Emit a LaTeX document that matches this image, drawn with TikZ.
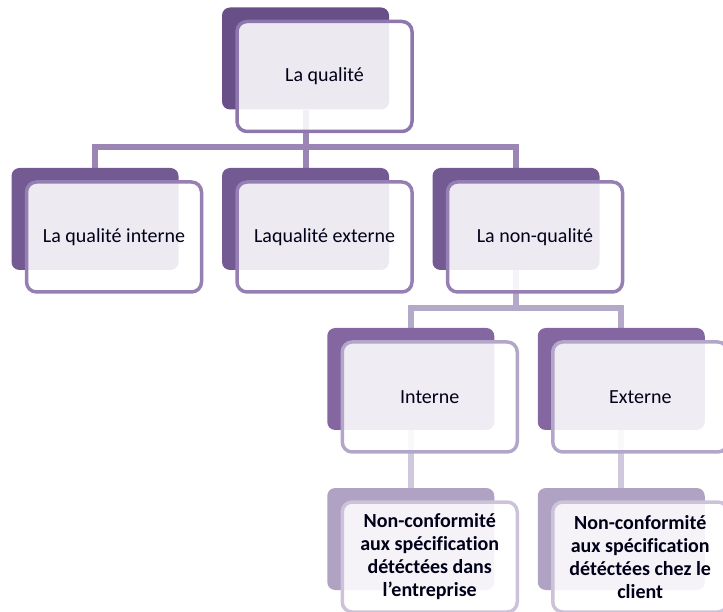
\documentclass[tikz,border=0pt]{standalone}
\usepackage{fontspec}
\setmainfont{Carlito}[Ligatures=CommonOff]
\usepackage{tikz}
\usetikzlibrary{backgrounds}
\definecolor{violetA}{HTML}{684F87}
\definecolor{violetB}{HTML}{735A93}
\definecolor{violetC}{HTML}{8466A0}
\definecolor{violetD}{HTML}{AFA2C3}
\definecolor{bordA}{HTML}{8D77AC}
\definecolor{bordB}{HTML}{957FB3}
\definecolor{bordC}{HTML}{B3A7C9}
\definecolor{bordD}{HTML}{CCC3DA}
\definecolor{lienA}{HTML}{9A85B4}
\definecolor{lienB}{HTML}{B5A9C9}
\definecolor{lienC}{HTML}{D0C8DC}

\begin{document}
\begin{tikzpicture}[x=1pt,y=1pt,
  fond/.style={rounded corners=8pt, minimum width=167pt, minimum height=102pt, inner sep=0pt},
  carte/.style={rounded corners=10pt, minimum width=175pt, minimum height=110pt,
                fill=white, fill opacity=0.88, text opacity=1, line width=3.5pt,
                align=center, text=black!90!blue, font=\fontsize{20}{23}\selectfont},
  lien/.style={line width=6pt}]

  \useasboundingbox (0,0) rectangle (723,611);

  % niveau 1
  \node[fond, fill=violetA] (q0) at (305.5,552.5) {};
  \node[carte, draw=bordA] (q0t) at ([shift={(19,-18)}]q0.center) {La qualité};

  % niveau 2
  \node[fond, fill=violetB] (q1) at (95,392) {};
  \node[carte, draw=bordB] (q1t) at ([shift={(19,-18)}]q1.center) {La qualité interne};
  \node[fond, fill=violetB] (q2) at (305.5,392) {};
  \node[carte, draw=bordB] (q2t) at ([shift={(19,-18)}]q2.center) {Laqualité externe};
  \node[fond, fill=violetB] (q3) at (516,392) {};
  \node[carte, draw=bordB] (q3t) at ([shift={(19,-18)}]q3.center) {La non-qualité};

  % niveau 3
  \node[fond, fill=violetC] (int) at (410.75,232) {};
  \node[carte, draw=bordC] (intt) at ([shift={(19,-18)}]int.center) {Interne};
  \node[fond, fill=violetC] (ext) at (621.25,232) {};
  \node[carte, draw=bordC] (extt) at ([shift={(19,-18)}]ext.center) {Externe};

  % niveau 4
  \node[fond, fill=violetD] (nc1) at (410.75,72) {};
  \node[carte, draw=bordD, font=\fontsize{20}{23}\selectfont\bfseries] (nc1t) at ([shift={(19,-18)}]nc1.center)
    {Non-conformité\\aux spécification\\détéctées dans\\l\symbol{39}entreprise};
  \node[fond, fill=violetD] (nc2) at (621.25,72) {};
  \node[carte, draw=bordD, font=\fontsize{20}{23}\selectfont\bfseries] (nc2t) at ([shift={(19,-18)}]nc2.center)
    {Non-conformité\\aux spécification\\détéctées chez le\\client};

  % liens
  \begin{scope}[on background layer]
    \draw[lien, draw=lienA] (q0.south) -- ++(0,-37) -| (q1.north);
    \draw[lien, draw=lienA] (q0.south) -- ++(0,-37) -| (q3.north);
    \draw[lien, draw=lienA] (q0.south) -- (q2.north);
    \draw[lien, draw=lienB] (q3.south) -- ++(0,-38) -| (int.north);
    \draw[lien, draw=lienB] (q3.south) -- ++(0,-38) -| (ext.north);
    \draw[lien, draw=lienC] (int.south) -- (nc1.north);
    \draw[lien, draw=lienC] (ext.south) -- (nc2.north);
  \end{scope}

\end{tikzpicture}
\end{document}
